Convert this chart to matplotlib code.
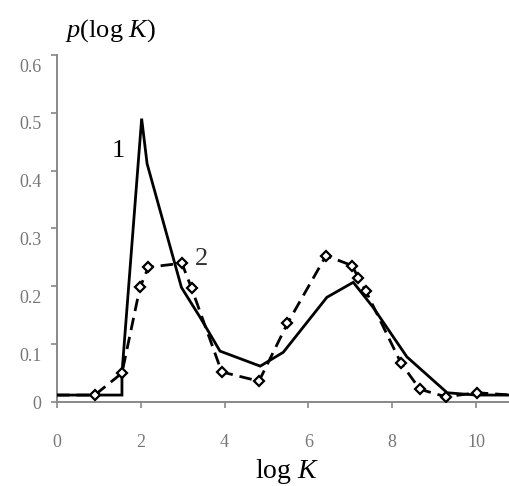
import matplotlib
matplotlib.use("Agg")
import matplotlib.pyplot as plt
from matplotlib.transforms import ScaledTranslation

plt.rcParams['font.family'] = ['Liberation Serif', 'DejaVu Serif']
plt.rcParams['mathtext.fontset'] = 'custom'
plt.rcParams['mathtext.rm'] = 'Liberation Serif'
plt.rcParams['mathtext.it'] = 'Liberation Serif:italic'

# Curve 1 (solid)
x1 = [0.0, 1.55, 1.55, 2.02, 2.15, 2.97, 3.41, 3.89, 4.85, 5.40, 6.44, 7.07, 7.54, 8.35, 9.31, 10.0, 10.85]
y1 = [0.012, 0.012, 0.05, 0.49, 0.412, 0.198, 0.147, 0.088, 0.062, 0.086, 0.181, 0.207, 0.164, 0.078, 0.016, 0.012, 0.012]

# Curve 2 (dashed with markers)
x2 = [0.0, 0.9, 1.55, 1.98, 2.18, 2.98, 3.21, 3.93, 4.82, 5.50, 6.42, 7.04, 7.19, 7.37, 8.21, 8.66, 9.28, 10.02, 10.85]
y2 = [0.012, 0.012, 0.05, 0.198, 0.233, 0.24, 0.197, 0.052, 0.036, 0.136, 0.253, 0.236, 0.215, 0.192, 0.067, 0.022, 0.009, 0.016, 0.012]
m2 = list(range(1, 18))

xticks = [0, 2, 4, 6, 8, 10]
yticks = [0, 0.1, 0.2, 0.3, 0.4, 0.5, 0.6]
ytick_labels = ['0', '0.1', '0.2', '0.3', '0.4', '0.5', '0.6']

fig = plt.figure(figsize=(5.10, 4.86), dpi=100)
ax = fig.add_axes([57/510, 84/486, 453/510, 347/486])

ax.plot(x1, y1, color='black', lw=2.0, solid_joinstyle='miter', zorder=3)
ax.plot(x2, y2, color='black', lw=2.0, dashes=(4.5, 2.5), markevery=m2,
        marker='D', markersize=5.5, markerfacecolor='white',
        markeredgecolor='black', markeredgewidth=1.6, zorder=4)

ax.set_xlim(0, 10.81)
ax.set_ylim(0, 0.6)
for s in ['top', 'right']:
    ax.spines[s].set_visible(False)
for s in ['left', 'bottom']:
    ax.spines[s].set_color('#888888')
    ax.spines[s].set_linewidth(1.4)

ax.set_xticks(xticks)
ax.set_xticklabels([str(t) for t in xticks])
ax.set_yticks(yticks)
ax.set_yticklabels(ytick_labels)
ax.tick_params(axis='both', direction='out', length=4, width=1.2, color='#888888',
               labelcolor='#777777', labelsize=13)
ax.tick_params(axis='x', pad=19)
ax.tick_params(axis='y', pad=7)

for lab, v in zip(ax.get_yticklabels(), yticks):
    if v > 0:
        lab.set_transform(lab.get_transform() + ScaledTranslation(0, -10 / 100, fig.dpi_scale_trans))

ax.set_xlabel(r'log $K$', fontsize=20)
ax.xaxis.set_label_coords(0.508, -0.20)
ax.xaxis.label.set_va('center')

fig.text(111/510, 1 - 31/486, r'$p$(log $K$)', fontsize=19, ha='center', va='center')

ax.text(1.46, 0.434, '1', fontsize=19, ha='center', va='center')
ax.text(3.45, 0.248, '2', fontsize=19, ha='center', va='center', color='#333333')

fig.savefig('out.png', dpi=100)
